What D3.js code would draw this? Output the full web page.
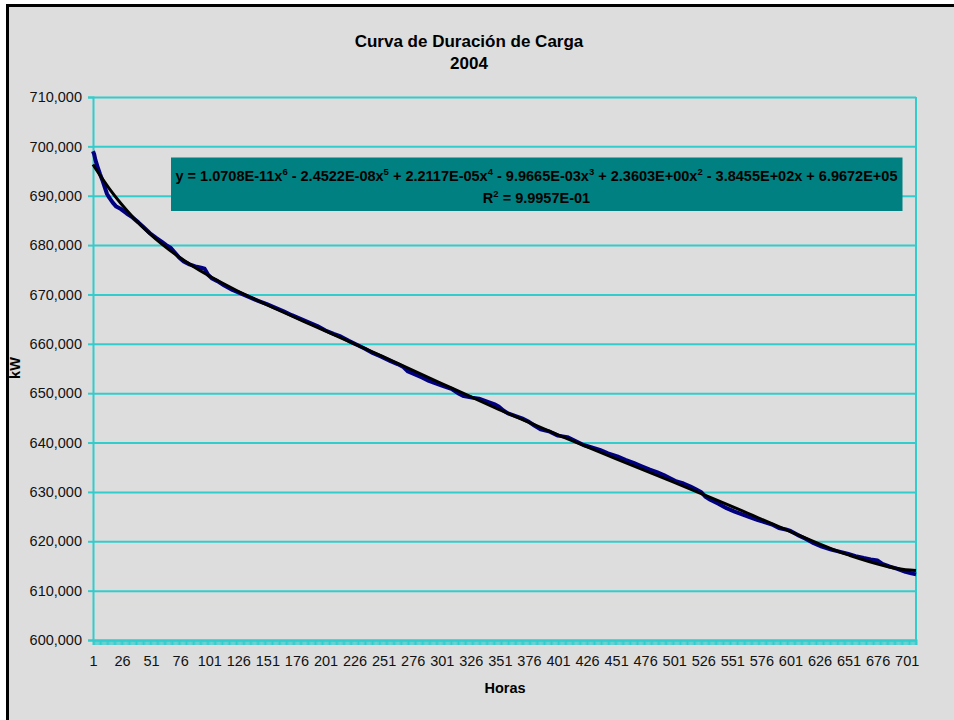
<!DOCTYPE html>
<html>
<head>
<meta charset="utf-8">
<script src="https://cdn.jsdelivr.net/npm/d3@7"></script>
<style>
  body { margin: 0; background: #fff; overflow: hidden; }
  svg { display: block; font-family: "Liberation Sans", Arial, sans-serif; }
</style>
</head>
<body>
<svg id="chart" width="954" height="720"></svg>
<script>
// load duration curve (hour -> kW)
const hours = [1, 2, 3, 5, 7, 9, 11, 13, 15, 18, 21, 25, 30, 35, 40, 45, 50, 55, 60, 64,
  68, 71, 75, 79, 84, 89, 94, 97, 100, 103, 108, 114, 121, 129, 136, 143, 150, 157, 165, 172,
  180, 187, 194, 201, 208, 214, 221, 228, 235, 242, 249, 257, 263, 268, 272, 277, 284, 290, 297, 303,
  310, 315, 320, 327, 333, 340, 346, 350, 354, 358, 364, 370, 376, 381, 386, 394, 401, 409, 416, 423,
  430, 437, 444, 452, 459, 466, 473, 480, 486, 492, 497, 503, 509, 515, 520, 524, 528, 532, 539, 546,
  553, 560, 567, 573, 580, 586, 591, 597, 601, 607, 614, 621, 628, 636, 643, 650, 657, 664, 670, 676,
  680, 686, 693, 700, 705, 709];
const kW = [699000, 698400, 697300, 695800, 694400, 693200, 691800, 690400, 689600, 688600,
  687800, 687300, 686400, 685600, 684600, 683500, 682400, 681500, 680700, 680000,
  679400, 678600, 677500, 676700, 676100, 675700, 675400, 675200, 674000, 673300,
  672700, 671800, 670900, 670100, 669400, 668700, 668100, 667400, 666600, 665800,
  665000, 664300, 663600, 662700, 662000, 661500, 660600, 659800, 659000, 658100,
  657400, 656500, 655900, 655300, 654400, 653900, 653200, 652500, 651900, 651400,
  650800, 650000, 649400, 649100, 648900, 648300, 647800, 647300, 646500, 645900,
  645400, 644900, 644200, 643400, 642700, 642200, 641400, 641100, 640300, 639500,
  639000, 638500, 637800, 637200, 636500, 635900, 635200, 634500, 634000, 633400,
  632800, 632100, 631700, 631100, 630500, 630000, 629000, 628400, 627600, 626700,
  626000, 625400, 624800, 624300, 623800, 623300, 622700, 622400, 622100, 621300,
  620500, 619600, 618900, 618300, 617900, 617500, 617000, 616600, 616300, 616100,
  615400, 614900, 614400, 613800, 613500, 613300];

// polynomial trendline, values taken from the equation shown on the chart
const trendHours = [1, 5, 10, 15, 25, 35, 50, 75, 100, 125, 150, 200, 250, 300, 350, 400, 450, 500, 550, 600, 650, 700, 709];
const trendKW = [696338, 694855, 693101, 691450, 688434, 685757, 682278, 677594, 673879, 670757,
  667964, 662716, 657436, 652052, 646734, 641642, 636788, 632020, 627126, 622059, 617293, 614233, 614073];

const hourCount = 709;
const xLabels = [1, 26, 51, 76, 101, 126, 151, 176, 201, 226, 251, 276, 301, 326, 351, 376, 401,
  426, 451, 476, 501, 526, 551, 576, 601, 626, 651, 676, 701];
const yTicks = [600000, 610000, 620000, 630000, 640000, 650000, 660000, 670000, 680000, 690000, 700000, 710000];

const eqParts = [
  ['y = 1.0708E-11x', '6'], [' - 2.4522E-08x', '5'], [' + 2.2117E-05x', '4'],
  [' - 9.9665E-03x', '3'], [' + 2.3603E+00x', '2'], [' - 3.8455E+02x + 6.9672E+05', '']
];

const grid = '#33CCCC';
const plotLeft = 93, plotRight = 916, plotTop = 97, plotBottom = 640;

const svg = d3.select('#chart');

svg.append('rect')
  .attr('x', 7.5).attr('y', 5.5)
  .attr('width', 1000).attr('height', 760)
  .attr('fill', '#DDDDDD')
  .attr('stroke', '#000')
  .attr('stroke-width', 3);

const x = d3.scaleLinear().domain([1, hourCount]).range([plotLeft, plotRight]);
const y = d3.scaleLinear().domain([600000, 710000]).range([plotBottom, plotTop]);

// horizontal gridlines
svg.append('g')
  .attr('transform', `translate(${plotLeft},0)`)
  .call(d3.axisLeft(y).tickValues(yTicks).tickSize(-(plotRight - plotLeft)).tickFormat(''))
  .call(g => g.select('.domain').remove())
  .call(g => g.selectAll('line').attr('stroke', grid).attr('stroke-width', 2));

// right edge of plot
svg.append('line')
  .attr('x1', plotRight).attr('x2', plotRight).attr('y1', plotTop).attr('y2', plotBottom)
  .attr('stroke', grid).attr('stroke-width', 2);

// y axis with labels
svg.append('g')
  .attr('transform', `translate(${plotLeft},0)`)
  .call(d3.axisLeft(y).tickValues(yTicks).tickSize(5).tickPadding(6).tickFormat(d3.format(',')))
  .call(g => g.select('.domain').attr('stroke', grid).attr('stroke-width', 2))
  .call(g => g.selectAll('line').attr('stroke', grid).attr('stroke-width', 2))
  .call(g => g.selectAll('text').attr('fill', '#111').style('font-size', '14.5px'));

// one tick per hour
svg.append('g')
  .attr('transform', `translate(0,${plotBottom})`)
  .call(d3.axisBottom(x).tickValues(d3.range(1, hourCount + 1)).tickSize(5).tickFormat(''))
  .call(g => g.select('.domain').attr('stroke', grid).attr('stroke-width', 2))
  .call(g => g.selectAll('line').attr('stroke', grid).attr('stroke-width', 1));

// hour labels every 25
svg.append('g')
  .attr('transform', `translate(0,${plotBottom})`)
  .call(d3.axisBottom(x).tickValues(xLabels).tickSize(0).tickPadding(15.5).tickFormat(d3.format('d')))
  .call(g => g.select('.domain').remove())
  .call(g => g.selectAll('text').attr('fill', '#111').style('font-size', '14.5px'));

const line = d3.line().x(d => x(d[0])).y(d => y(d[1]));

svg.append('path')
  .datum(hours.map((h, i) => [h, kW[i]]))
  .attr('d', line)
  .attr('fill', 'none')
  .attr('stroke', '#000080')
  .attr('stroke-width', 4)
  .attr('stroke-linejoin', 'round');

svg.append('path')
  .datum(trendHours.map((h, i) => [h, trendKW[i]]))
  .attr('d', line.curve(d3.curveMonotoneX))
  .attr('fill', 'none')
  .attr('stroke', '#000')
  .attr('stroke-width', 3);

// equation label
svg.append('rect')
  .attr('x', 171).attr('y', 157.5)
  .attr('width', 731.5).attr('height', 53.5)
  .attr('fill', '#008080');

const eq = svg.append('text')
  .attr('x', 536.5).attr('y', 180.5)
  .attr('text-anchor', 'middle')
  .style('font-size', '14.5px')
  .style('font-weight', 'bold');
let raised = false;
eqParts.forEach(([txt, sup]) => {
  eq.append('tspan').attr('dy', raised ? 6 : 0).text(txt);
  raised = false;
  if (sup) {
    eq.append('tspan').attr('dy', -6).style('font-size', '9.5px').text(sup);
    raised = true;
  }
});

const r2 = svg.append('text')
  .attr('x', 536.5).attr('y', 202.5)
  .attr('text-anchor', 'middle')
  .style('font-size', '14.5px')
  .style('font-weight', 'bold');
r2.append('tspan').text('R');
r2.append('tspan').attr('dy', -6).style('font-size', '9.5px').text('2');
r2.append('tspan').attr('dy', 6).text(' = 9.9957E-01');

// titles
const title = svg.append('text')
  .attr('text-anchor', 'middle')
  .style('font-size', '17px')
  .style('font-weight', 'bold');
title.append('tspan').attr('x', 469).attr('y', 46.5).text('Curva de Duración de Carga');
title.append('tspan').attr('x', 469).attr('y', 69).text('2004');

svg.append('text')
  .attr('x', 505).attr('y', 692.5)
  .attr('text-anchor', 'middle')
  .style('font-size', '14.5px')
  .style('font-weight', 'bold')
  .text('Horas');

svg.append('text')
  .attr('transform', 'translate(20,368) rotate(-90)')
  .attr('text-anchor', 'middle')
  .style('font-size', '14.5px')
  .style('font-weight', 'bold')
  .text('kW');
</script>
</body>
</html>
